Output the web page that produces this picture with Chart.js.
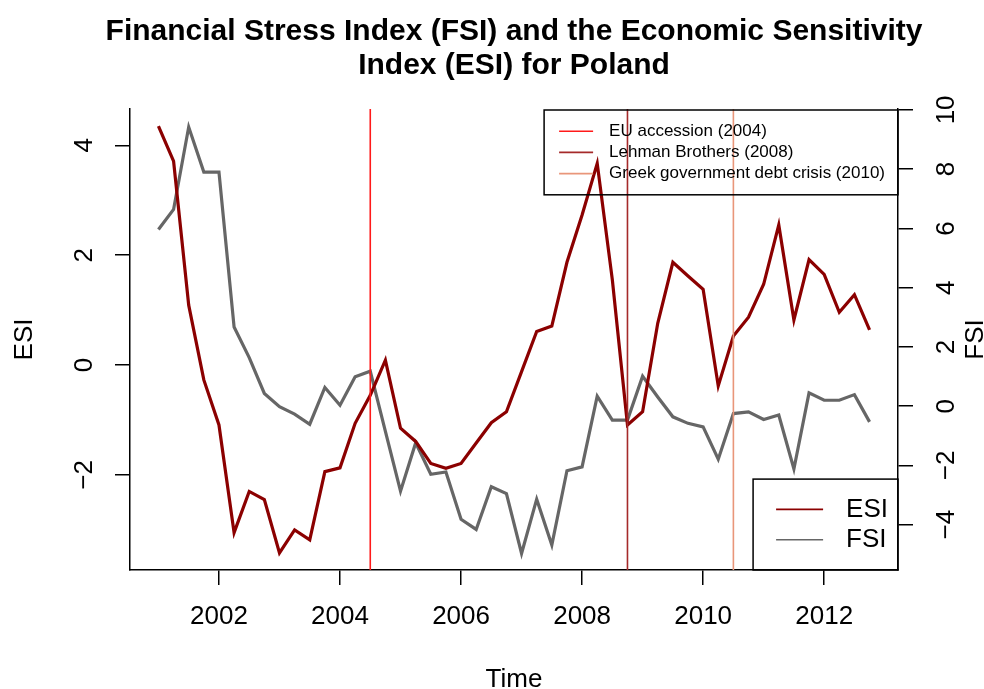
<!DOCTYPE html>
<html>
<head>
<meta charset="utf-8">
<title>FSI and ESI for Poland</title>
<script src="https://cdn.jsdelivr.net/npm/chart.js@4.4.0/dist/chart.umd.min.js"></script>
<style>
    html, body { margin: 0; padding: 0; background: #fff; }
    #wrap { width: 984px; height: 689px; }
</style>
</head>
<body>
<div id="wrap"><canvas id="chart"></canvas></div>
<script>
// quarterly observations, 2001 Q1 .. 2012 Q4 (decimal years)
const quarters = [
    2001.00, 2001.25, 2001.50, 2001.75, 2002.00, 2002.25, 2002.50, 2002.75,
    2003.00, 2003.25, 2003.50, 2003.75, 2004.00, 2004.25, 2004.50, 2004.75,
    2005.00, 2005.25, 2005.50, 2005.75, 2006.00, 2006.25, 2006.50, 2006.75,
    2007.00, 2007.25, 2007.50, 2007.75, 2008.00, 2008.25, 2008.50, 2008.75,
    2009.00, 2009.25, 2009.50, 2009.75, 2010.00, 2010.25, 2010.50, 2010.75,
    2011.00, 2011.25, 2011.50, 2011.75, 2012.00, 2012.25, 2012.50, 2012.75
];
const esiValues = [
    4.35, 3.71, 1.09, -0.27, -1.09, -3.05, -2.30, -2.45,
    -3.42, -3.00, -3.18, -1.94, -1.87, -1.06, -0.55, 0.09,
    -1.15, -1.39, -1.79, -1.88, -1.79, -1.42, -1.05, -0.85,
    -0.12, 0.61, 0.71, 1.87, 2.73, 3.67, 1.55, -1.09,
    -0.85, 0.76, 1.87, 1.62, 1.38, -0.38, 0.53, 0.87,
    1.47, 2.55, 0.82, 1.92, 1.65, 0.96, 1.28, 0.64
];
const fsiValues = [
    5.96, 6.64, 9.42, 7.90, 7.90, 2.67, 1.64, 0.43,
    -0.02, -0.27, -0.61, 0.63, 0.03, 0.99, 1.18, -0.85,
    -2.87, -1.24, -2.30, -2.22, -3.82, -4.16, -2.72, -2.95,
    -4.97, -3.14, -4.69, -2.18, -2.05, 0.34, -0.47, -0.47,
    1.01, 0.31, -0.36, -0.58, -0.70, -1.79, -0.25, -0.19,
    -0.45, -0.30, -2.12, 0.45, 0.20, 0.20, 0.39, -0.53
];

const eventDates = [2004.5, 2008.75, 2010.5];
const eventLabels = ['EU accession (2004)', 'Lehman Brothers (2008)', 'Greek government debt crisis (2010)'];
const eventColors = ['#ff1a1a', '#a52a2a', '#e9967a'];

const xTicks = [2002, 2004, 2006, 2008, 2010, 2012];
const esiTicks = [-2, 0, 2, 4];
const fsiTicks = [-4, -2, 0, 2, 4, 6, 8, 10];

const titleLines = ['Financial Stress Index (FSI) and the Economic Sensitivity', 'Index (ESI) for Poland'];

const FONT = '"Liberation Sans", Arial, Helvetica, sans-serif';
const ESI_COLOR = '#8b0000';
const FSI_COLOR = '#666666';

function minus(v) {
    return String(v).replace('-', '\u2212');
}

// text rotated to read bottom-to-top, baseline at x
function upText(ctx, text, x, y) {
    ctx.save();
    ctx.translate(x, y);
    ctx.rotate(-Math.PI / 2);
    ctx.textAlign = 'center';
    ctx.textBaseline = 'alphabetic';
    ctx.fillText(text, 0, 0);
    ctx.restore();
}

function drawLegend(ctx, items, st, right, top) {
    ctx.font = st.size + 'px ' + FONT;
    let tw = 0;
    items.forEach(it => { tw = Math.max(tw, ctx.measureText(it.label).width); });
    const w = st.pad + st.line + st.gap + tw + st.padR;
    const h = st.row * (items.length + 1);
    const left = right - w;
    ctx.strokeStyle = '#000';
    ctx.lineWidth = 1.5;
    ctx.strokeRect(left, top, w, h);
    ctx.textAlign = 'left';
    ctx.textBaseline = 'middle';
    items.forEach((it, i) => {
        const y = top + st.row * (i + 1);
        ctx.strokeStyle = it.color;
        ctx.lineWidth = 1.6;
        ctx.beginPath();
        ctx.moveTo(left + st.pad, y);
        ctx.lineTo(left + st.pad + st.line, y);
        ctx.stroke();
        ctx.fillStyle = '#000';
        ctx.fillText(it.label, left + st.pad + st.line + st.gap, y);
    });
}

const decorPlugin = {
    id: 'decor',
    afterDraw(chart) {
        const ctx = chart.ctx;
        const a = chart.chartArea;
        const yL = chart.scales.y;
        const yR = chart.scales.y1;
        const midX = (a.left + a.right) / 2;
        const midY = (a.top + a.bottom) / 2;
        ctx.save();
        ctx.fillStyle = '#000';

        // main title, centred over the plot region
        ctx.font = 'bold 30px ' + FONT;
        ctx.textAlign = 'center';
        ctx.textBaseline = 'middle';
        titleLines.forEach((t, i) => ctx.fillText(t, midX, 32 + i * 34));

        ctx.font = '26px ' + FONT;
        // y tick labels, parallel to the axis
        esiTicks.forEach(v => upText(ctx, minus(v), a.left - 38, yL.getPixelForValue(v)));
        fsiTicks.forEach(v => upText(ctx, minus(v), a.right + 56, yR.getPixelForValue(v)));

        // axis titles
        upText(ctx, 'ESI', a.left - 98, midY);
        upText(ctx, 'FSI', a.right + 85, midY);
        ctx.textAlign = 'center';
        ctx.textBaseline = 'alphabetic';
        ctx.fillText('Time', midX, a.bottom + 117);

        // legends
        const evItems = eventLabels.map((l, i) => ({ label: l, color: eventColors[i] }));
        drawLegend(ctx, evItems, { size: 17, pad: 15, line: 34, gap: 16, padR: 13, row: 21.2 }, a.right, a.top + 1);
        const seriesItems = [{ label: 'ESI', color: ESI_COLOR }, { label: 'FSI', color: FSI_COLOR }];
        const st2 = { size: 26, pad: 23, line: 47, gap: 23, padR: 10, row: 30.3 };
        drawLegend(ctx, seriesItems, st2, a.right, a.bottom - st2.row * 3);
        ctx.restore();
    }
};

const fsiMin = -5.53, fsiMax = 10.03;

const eventSets = eventDates.map((d, i) => ({
    label: eventLabels[i],
    data: [{ x: d, y: fsiMin - 1 }, { x: d, y: fsiMax + 1 }],
    yAxisID: 'y1',
    borderColor: eventColors[i],
    borderWidth: 1.6,
    pointRadius: 0
}));

function axisGrid() {
    return {
        drawOnChartArea: false,
        drawTicks: true,
        tickLength: 15,
        tickColor: '#000',
        tickWidth: 1.5,
        lineWidth: 1.5
    };
}

new Chart(document.getElementById('chart'), {
    type: 'line',
    data: {
        datasets: [
            ...eventSets,
            {
                label: 'ESI',
                data: quarters.map((q, i) => ({ x: q, y: esiValues[i] })),
                yAxisID: 'y',
                borderColor: ESI_COLOR,
                borderWidth: 3.2,
                pointRadius: 0,
                tension: 0
            },
            {
                label: 'FSI',
                data: quarters.map((q, i) => ({ x: q, y: fsiValues[i] })),
                yAxisID: 'y1',
                borderColor: FSI_COLOR,
                borderWidth: 3.2,
                pointRadius: 0,
                tension: 0
            }
        ]
    },
    options: {
        responsive: true,
        maintainAspectRatio: false,
        animation: false,
        layout: { padding: { top: 109 } },
        scales: {
            x: {
                type: 'linear',
                min: 2000.53,
                max: 2013.22,
                afterBuildTicks: s => { s.ticks = xTicks.map(v => ({ value: v })); },
                afterFit: s => { s.height = 119; },
                ticks: {
                    color: '#000',
                    padding: 16,
                    maxRotation: 0,
                    font: { family: FONT, size: 26, lineHeight: 1.2 },
                    callback: v => String(v)
                },
                grid: axisGrid(),
                border: { display: true, color: '#000', width: 1.5 }
            },
            y: {
                position: 'left',
                min: -3.73,
                max: 4.66,
                afterBuildTicks: s => { s.ticks = esiTicks.map(v => ({ value: v })); },
                afterFit: s => { s.width = 130; },
                ticks: { display: false },
                grid: axisGrid(),
                border: { display: true, color: '#000', width: 1.5 }
            },
            y1: {
                position: 'right',
                min: fsiMin,
                max: fsiMax,
                afterBuildTicks: s => { s.ticks = fsiTicks.map(v => ({ value: v })); },
                afterFit: s => { s.width = 86; },
                ticks: { display: false },
                grid: axisGrid(),
                border: { display: true, color: '#000', width: 1.5 }
            }
        },
        plugins: {
            legend: { display: false },
            tooltip: { enabled: false },
            title: { display: false }
        }
    },
    plugins: [decorPlugin]
});
</script>
</body>
</html>
